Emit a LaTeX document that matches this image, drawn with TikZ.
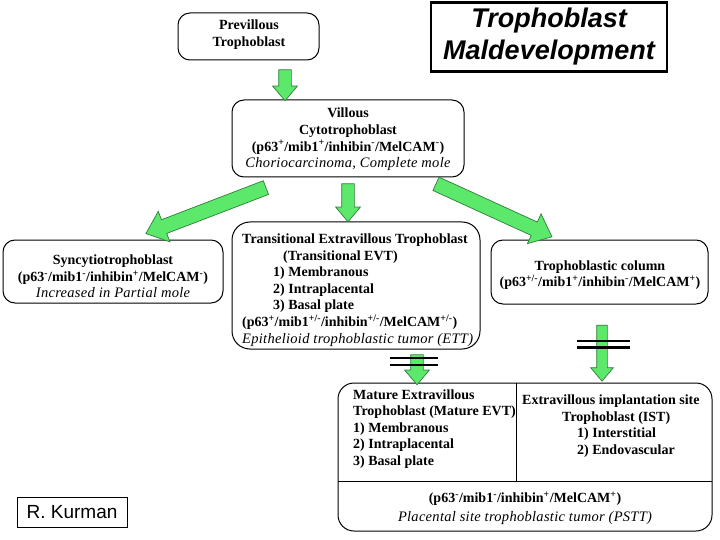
\documentclass[tikz,border=0pt]{standalone}
\usepackage{fontspec}
\setmainfont{Liberation Serif}
\newfontfamily\arialfont{Liberation Sans}
\usetikzlibrary{shapes.arrows,calc}
\definecolor{arrowgreen}{HTML}{5CE86A}
\definecolor{arrowedge}{HTML}{2E7D3A}
\tikzset{
  box/.style={draw, rounded corners=12pt, line width=1pt, inner sep=0pt},
  txt/.style={inner sep=0pt, font=\fontsize{14}{16.6}\selectfont\bfseries},
  fat/.style={single arrow, draw=arrowedge, fill=arrowgreen, line width=0.7pt,
    inner xsep=0pt, text height=0pt, text depth=0pt, sloped, allow upside down,
    single arrow tip angle=80},
  bar/.style={line width=2.6pt, black}
}
\newcommand{\fatarrow}[5]{%
  \path let \p1=($(#5)-(#4)$), \n1={veclen(\x1,\y1)} in
    (#4) -- (#5) node[fat, inner ysep=#2, single arrow head extend=#3,
      minimum height=\n1, midway] (#1) {};}
\newcommand{\ital}[1]{{\mdseries\itshape\fontsize{14.5}{16.6}\selectfont\addfontfeature{LetterSpace=2}#1}}
\begin{document}
\begin{tikzpicture}[x=1pt,y=-1pt]
\useasboundingbox (0,0) rectangle (720,540);
% boxes
\node[box, minimum width=141pt, minimum height=47pt] (prev) at (248.5,36.5) {};
\node[txt, align=center] (prevt) at (249,34.5) {Previllous\\Trophoblast};

\node[draw, line width=2.4pt, minimum width=236pt, minimum height=69pt, inner sep=0pt,
  font=\arialfont\bfseries\itshape\fontsize{27}{32}\selectfont, align=center]
  (title) at (549,37) {Trophoblast\\Maldevelopment};

\node[box, minimum width=232pt, minimum height=77pt] (vill) at (348,138.5) {};
\node[txt, align=center] (villt) at (348,139.5)
  {Villous\\Cytotrophoblast\\(p63\textsuperscript{+}/mib1\textsuperscript{+}/inhibin\textsuperscript{-}/MelCAM\textsuperscript{-})\\\ital{Choriocarcinoma, Complete mole}};

\node[box, minimum width=220pt, minimum height=63pt] (syn) at (113,271.5) {};
\node[txt, align=center] (synt) at (113,276.5)
  {Syncytiotrophoblast\\(p63\textsuperscript{-}/mib1\textsuperscript{-}/inhibin\textsuperscript{+}/MelCAM\textsuperscript{-})\\\ital{Increased in Partial mole}};

\node[box, minimum width=217pt, minimum height=64pt] (col) at (599.5,272) {};
\node[txt, align=center] (colt) at (600,275)
  {Trophoblastic column\\(p63\textsuperscript{+/-}/mib1\textsuperscript{+}/inhibin\textsuperscript{-}/MelCAM\textsuperscript{+})};

\node[box, rounded corners=18pt, minimum width=248pt, minimum height=127pt] (trans) at (356,285.5) {};
\node[txt, align=left, anchor=west] (transt) at (242,290)
  {Transitional Extravillous Trophoblast\\
   \hspace*{41pt}(Transitional EVT)\\
   \hspace*{31pt}1) Membranous\\
   \hspace*{31pt}2) Intraplacental\\
   \hspace*{31pt}3) Basal plate\\
   (p63\textsuperscript{+}/mib1\textsuperscript{+/-}/inhibin\textsuperscript{+/-}/MelCAM\textsuperscript{+/-})\\
   \ital{Epithelioid trophoblastic tumor (ETT)}};

\node[box, rounded corners=16pt, minimum width=374pt, minimum height=148pt] (bot) at (525,457) {};
\coordinate (divtop) at (516,383);
\coordinate (divmid) at (516,481);
\coordinate (hl) at (338,481);
\coordinate (hr) at (712,481);
\draw[line width=1pt] (divtop) -- (divmid);
\draw[line width=1pt] (hl) -- (hr);
\node[txt, align=left, anchor=west] (mat) at (353,429)
  {Mature Extravillous\\Trophoblast (Mature EVT)\\1) Membranous\\2) Intraplacental\\3) Basal plate};
\node[txt, align=left, anchor=west] (ist) at (522,426)
  {Extravillous implantation site\\
   \hspace*{40pt}Trophoblast (IST)\\
   \hspace*{55pt}1) Interstitial\\
   \hspace*{55pt}2) Endovascular};
\node[txt, align=center] (pstt) at (525,508)
  {(p63\textsuperscript{-}/mib1\textsuperscript{-}/inhibin\textsuperscript{+}/MelCAM\textsuperscript{+})\\[2pt]\ital{Placental site trophoblastic tumor (PSTT)}};

\node[draw, line width=0.9pt, minimum width=110pt, minimum height=30pt, inner sep=0pt,
  font=\arialfont\fontsize{19}{21}\selectfont] (kur) at (72,512) {R. Kurman};

% arrows
\coordinate (a1s) at (285,66);  \coordinate (a1e) at (285,97);
\coordinate (a2s) at (348,180); \coordinate (a2e) at (348,218);
\coordinate (a3s) at (270,186); \coordinate (a3e) at (150,232);
\coordinate (a4s) at (432,182); \coordinate (a4e) at (548,235);
\coordinate (a5s) at (417,351); \coordinate (a5e) at (417,381);
\coordinate (a6s) at (602,322); \coordinate (a6e) at (602,378);
\fatarrow{ar1}{6pt}{6pt}{a1s}{a1e}
\fatarrow{ar2}{6pt}{6pt}{a2s}{a2e}
\fatarrow{ar3}{7pt}{9pt}{a3s}{a3e}
\fatarrow{ar4}{7pt}{9pt}{a4s}{a4e}
\fatarrow{ar5}{6pt}{6pt}{a5s}{a5e}
\fatarrow{ar6}{5pt}{6pt}{a6s}{a6e}

% blocking bars
\draw[bar] (390,358) -- (438,358);
\draw[bar] (390,365) -- (438,365);
\draw[bar] (577,341) -- (630,341);
\draw[bar] (577,347.5) -- (630,347.5);
\end{tikzpicture}
\end{document}
